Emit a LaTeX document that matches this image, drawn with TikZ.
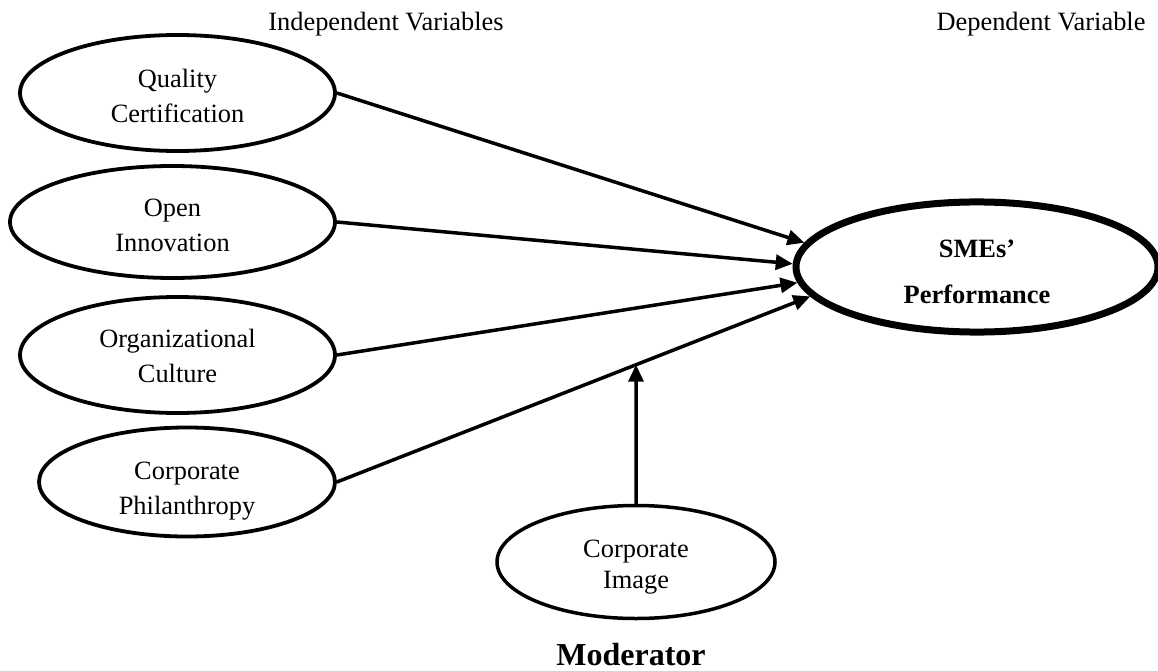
\documentclass[tikz,border=0pt]{standalone}
\usepackage{fontspec}
\setmainfont{Liberation Serif}
\usetikzlibrary{arrows.meta,calc,shapes.geometric,intersections}
\newcommand\lowlines[2]{\raisebox{-#1}[\height][\depth]{\begin{tabular}{@{}c@{}}#2\end{tabular}}}
\begin{document}
\begin{tikzpicture}[x=1pt,y=-1pt,
  ell/.style={ellipse,draw,line width=3.8pt,inner sep=0pt,align=center,
    font=\fontsize{26.4}{34.5}\selectfont},
  conn/.style={line width=3.5pt,-{Triangle[length=17pt,width=15pt]}},
  hdr/.style={font=\fontsize{26.4}{34}\selectfont,inner sep=0pt}]
\useasboundingbox (0,0) rectangle (1158,671);
\node[hdr] (iv) at (386,24) {Independent Variables};
\node[hdr] (dv) at (1041,24) {Dependent Variable};
\node[ell,minimum width=315pt,minimum height=116pt] (qc) at (177.5,93) {\lowlines{5pt}{Quality\\Certification}};
\node[ell,minimum width=325pt,minimum height=112pt] (oi) at (172.5,222) {\lowlines{5pt}{Open\\Innovation}};
\node[ell,minimum width=315pt,minimum height=116pt] (oc) at (177.5,355) {\lowlines{3pt}{Organizational\\Culture}};
\node[ell,minimum width=296pt,minimum height=109pt] (cp) at (187,482) {\lowlines{8pt}{Corporate\\Philanthropy}};
\node[ell,line width=7pt,minimum width=362pt,minimum height=130pt,
  font=\bfseries\fontsize{26.4}{46}\selectfont] (sp) at (977,267) {\lowlines{4pt}{SMEs’\\Performance}};
\node[ell,line width=3.5pt,minimum width=278pt,minimum height=113pt,
  font=\fontsize{26.4}{31}\selectfont] (ci) at (636,562) {\lowlines{5pt}{Corporate\\Image}};
\node[font=\bfseries\fontsize{32}{38}\selectfont,inner sep=0pt] (mod) at (631,655) {Moderator};
\draw[conn] (qc.east) -- (sp.172);
\draw[conn] (oi.east) -- (sp.179);
\draw[conn] (oc.east) -- (sp.185.5);
\draw[conn,name path=pl] (cp.east) -- (sp.190);
\path[name path=vl] (ci.north) -- ++(0,-300);
\path[name intersections={of=pl and vl,by=m}];
\draw[conn] (ci.north) -- (m);
\end{tikzpicture}
\end{document}
